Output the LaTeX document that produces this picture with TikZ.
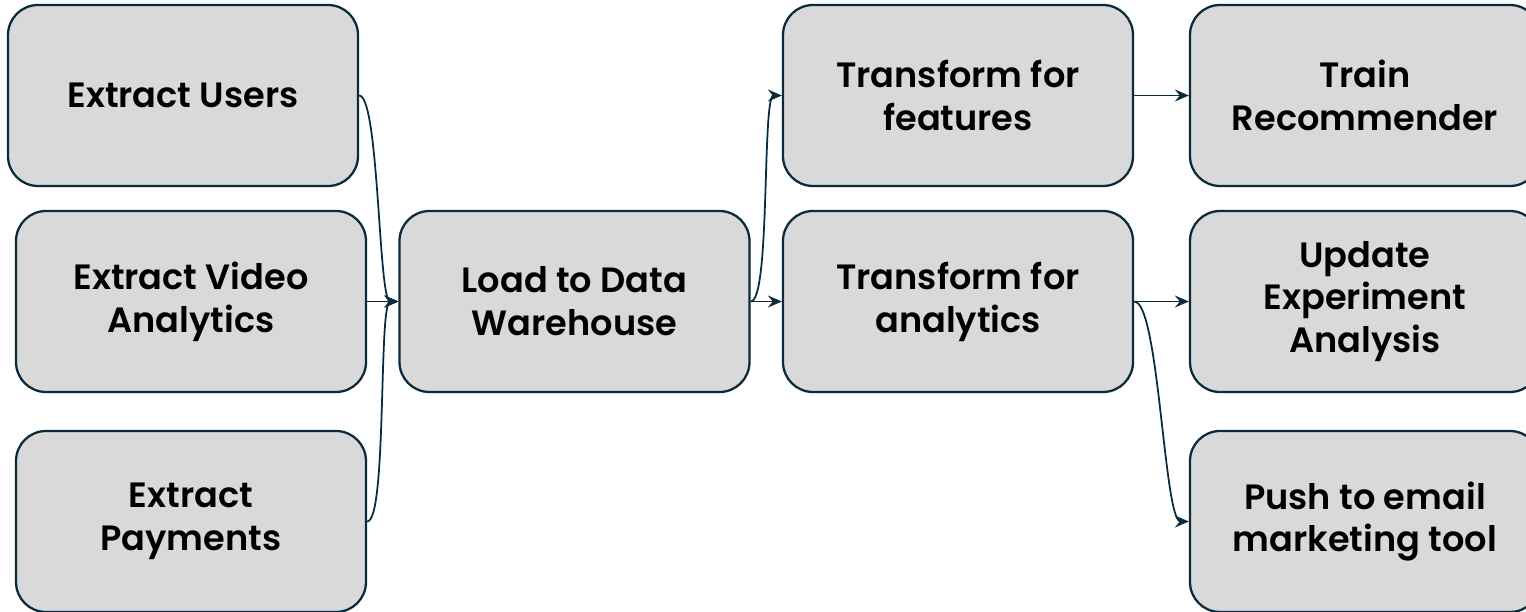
\documentclass[tikz,border=0pt]{standalone}
\usepackage{fontspec}
\setmainfont{Poppins}[BoldFont={Poppins SemiBold}]
\usetikzlibrary{arrows.meta}
\definecolor{edgeblue}{HTML}{0B2B3C}
\definecolor{boxgray}{HTML}{D9D9D9}
\tikzset{
  stagebox/.style={draw=edgeblue,line width=0.65pt,fill=boxgray,rounded corners=0.3cm,
    minimum width=3.5cm,minimum height=1.81cm,align=center,
    font=\fontsize{10}{12.2}\selectfont\bfseries,text=black},
  flow/.style={draw=edgeblue,line width=0.5pt,-{Stealth[length=1.4mm,width=1.2mm,inset=0.5mm]}}
}
\begin{document}
\begin{tikzpicture}
\useasboundingbox (0,0) rectangle (15.26,-6.12);
% sources
\node[stagebox] (users) at (1.83,-0.955) {Extract Users};
\node[stagebox] (video) at (1.91,-3.015) {Extract Video\\Analytics};
\node[stagebox] (payments) at (1.91,-5.215) {Extract\\Payments};
% warehouse and transforms
\node[stagebox] (load) at (5.745,-3.015) {Load to Data\\Warehouse};
\node[stagebox] (features) at (9.58,-0.955) {Transform for\\features};
\node[stagebox] (analytics) at (9.58,-3.015) {Transform for\\analytics};
% consumers
\node[stagebox] (train) at (13.65,-0.955) {Train\\Recommender};
\node[stagebox] (experiment) at (13.65,-3.015) {Update\\Experiment\\Analysis};
\node[stagebox] (email) at (13.65,-5.215) {Push to email\\marketing tool};
% connectors
\draw[flow] (users.east) .. controls +(0.2,0) and +(-0.2,0) .. (load.west);
\draw[flow] (video.east) -- (load.west);
\draw[flow] (payments.east) .. controls +(0.2,0) and +(-0.2,0) .. (load.west);
\draw[flow] (load.east) .. controls +(0.2,0) and +(-0.2,0) .. (features.west);
\draw[flow] (load.east) -- (analytics.west);
\draw[flow] (features.east) -- (train.west);
\draw[flow] (analytics.east) -- (experiment.west);
\draw[flow] (analytics.east) .. controls +(0.25,0) and +(-0.25,0) .. (email.west);
\end{tikzpicture}
\end{document}
